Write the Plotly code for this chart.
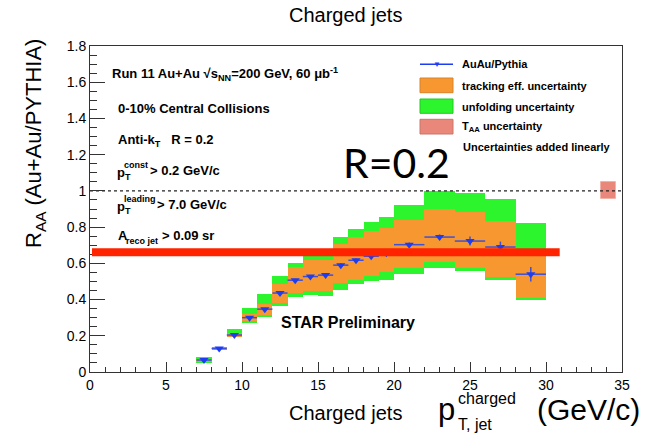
import plotly.graph_objects as go

# ---------------- data ----------------
bin_lo = [7, 8, 9, 10, 11, 12, 13, 14, 15, 16, 17, 18, 19, 20, 22, 24, 26, 28]
bin_hi = [8, 9, 10, 11, 12, 13, 14, 15, 16, 17, 18, 19, 20, 22, 24, 26, 28, 30]
raa = [0.066, 0.13, 0.204, 0.30, 0.347, 0.436, 0.507, 0.527, 0.535, 0.59, 0.617,
       0.639, 0.655, 0.703, 0.745, 0.723, 0.69, 0.54]
stat_err = [0.004, 0.005, 0.006, 0.006, 0.007, 0.008, 0.008, 0.009, 0.009, 0.01,
            0.01, 0.012, 0.012, 0.012, 0.015, 0.025, 0.03, 0.04]
track_lo = [0.058, 0.127, 0.196, 0.280, 0.315, 0.38, 0.434, 0.445, 0.446, 0.489,
            0.51, 0.531, 0.553, 0.577, 0.608, 0.577, 0.525, 0.406]
track_hi = [0.074, 0.133, 0.213, 0.322, 0.375, 0.487, 0.582, 0.619, 0.619, 0.705,
            0.745, 0.778, 0.795, 0.841, 0.902, 0.883, 0.834, 0.66]
unf_lo = [0.051, 0.126, 0.195, 0.272, 0.305, 0.365, 0.415, 0.425, 0.419, 0.452,
          0.485, 0.503, 0.507, 0.54, 0.575, 0.558, 0.51, 0.40]
unf_hi = [0.081, 0.134, 0.235, 0.355, 0.43, 0.529, 0.600, 0.642, 0.645, 0.745,
          0.79, 0.828, 0.856, 0.92, 0.999, 0.988, 0.957, 0.825]
taa_x = [34.1]
taa_lo = [0.955]
taa_hi = [1.05]
ref_line_y = 0.661   # red "R=0.2" line
ref_line_x = [0.13, 30.9]
unity = 1.0

x_tick_vals = [0, 5, 10, 15, 20, 25, 30, 35]
y_tick_vals = [0, 0.2, 0.4, 0.6, 0.8, 1.0, 1.2, 1.4, 1.6, 1.8]
y_tick_text = ["0", "0.2", "0.4", "0.6", "0.8", "1", "1.2", "1.4", "1.6", "1.8"]

# ---------------- colours ----------------
ORANGE = "#F7972F"
GREEN = "#2DF52D"
SALMON = "#E8877A"
BLUE = "#1C3DF2"
BLUE_BAR = "#3D50DA"
RED = "#FF2300"
FONT = "Liberation Sans"

centers = [(a + b) / 2 for a, b in zip(bin_lo, bin_hi)]
widths = [b - a for a, b in zip(bin_lo, bin_hi)]
half = [w / 2 for w in widths]

fig = go.Figure()
fig.add_trace(go.Bar(x=centers, width=widths, base=unf_lo,
                     y=[h - l for h, l in zip(unf_hi, unf_lo)],
                     marker=dict(color=GREEN, line=dict(width=0)),
                     showlegend=False, hoverinfo="skip"))
fig.add_trace(go.Bar(x=centers, width=widths, base=track_lo,
                     y=[h - l for h, l in zip(track_hi, track_lo)],
                     marker=dict(color=ORANGE, line=dict(width=0)),
                     showlegend=False, hoverinfo="skip"))
fig.add_trace(go.Bar(x=taa_x, width=[1.0], base=taa_lo,
                     y=[h - l for h, l in zip(taa_hi, taa_lo)],
                     marker=dict(color=SALMON, line=dict(width=1, color="#F2B4AA")),
                     showlegend=False, hoverinfo="skip"))
fig.add_trace(go.Scatter(x=centers, y=raa, mode="markers",
                         marker=dict(symbol="triangle-down", size=8, color=BLUE,
                                     line=dict(width=0)),
                         error_x=dict(type="data", array=half, color=BLUE_BAR,
                                      thickness=1.5, width=0),
                         error_y=dict(type="data", array=stat_err, color=BLUE_BAR,
                                      thickness=1.5, width=0),
                         showlegend=False))
# dotted unity line
fig.add_trace(go.Scatter(x=[0, 35], y=[unity, unity], mode="lines",
                         line=dict(color="#222222", width=1.2, dash="dot"),
                         showlegend=False, hoverinfo="skip"))

# red reference line on top
fig.add_shape(type="line", xref="x", yref="y", x0=ref_line_x[0], x1=ref_line_x[1],
              y0=ref_line_y, y1=ref_line_y, line=dict(color=RED, width=8), layer="above")

# ---------------- layout helpers ----------------
L, R, T, B = 90, 24, 46, 62
W, H = 646, 434
PW, PH = W - L - R, H - T - B


def px(x):
    return (x - L) / PW


def py(y):
    return (H - B - y) / PH


ann = []


def text(x, y, s, size, anchor="left", color="black", family=FONT, bold=False, angle=0,
         yanchor="middle"):
    if bold:
        s = "<b>" + s + "</b>"
    ann.append(dict(x=px(x), y=py(y), xref="paper", yref="paper", text=s,
                    showarrow=False, xanchor=anchor, yanchor=yanchor,
                    textangle=angle,
                    font=dict(size=size, color=color, family=family)))


# top-left info text
text(110, 74, "Run 11 Au+Au √s<sub>NN</sub>=200 GeV, 60 μb<sup>-1</sup>", 13, bold=True)
text(116, 108, "0-10% Central Collisions", 13, bold=True)
text(116, 140, "Anti-k<sub>T</sub>   R = 0.2", 13, bold=True)
# p_T^const
text(115, 172, "p", 13, bold=True)
text(122, 165, "const", 9, bold=True)
text(123, 177, "T", 9, bold=True)
text(148, 170, "> 0.2 GeV/c", 13, bold=True)
# p_T^leading
text(115, 206, "p", 13, bold=True)
text(122, 199, "leading", 9, bold=True)
text(123, 211, "T", 9, bold=True)
text(155, 204, "> 7.0 GeV/c", 13, bold=True)
# A_reco jet
text(116, 235, "A", 13, bold=True)
text(124, 241, "reco jet", 9, bold=True)
text(160, 235, "> 0.09 sr", 13, bold=True)

text(279, 322, "STAR Preliminary", 16, bold=True)
text(396, 162, "R=0.2", 41, anchor="center", family="Lato")

# legend
shapes = []
shapes.append(dict(type="line", xref="paper", yref="paper", x0=px(420), x1=px(453),
                   y0=py(64.3), y1=py(64.3), line=dict(color=BLUE, width=1.5)))
text(436.5, 64.5, "▼", 8, anchor="center", color=BLUE)
for (y0, y1, c, lc) in [(78, 92.7, ORANGE, "#D9822A"), (99, 113.3, GREEN, "#22C822"),
                        (119.3, 134, SALMON, "#C9766A")]:
    shapes.append(dict(type="rect", xref="paper", yref="paper", x0=px(420), x1=px(453),
                       y0=py(y1), y1=py(y0), fillcolor=c, line=dict(color=lc, width=1)))
text(460, 64.3, "AuAu/Pythia", 11, bold=True)
text(460, 85.7, "tracking eff. uncertainty", 11, bold=True)
text(460, 106.7, "unfolding uncertainty", 11, bold=True)
text(460, 126.5, "T<sub>AA</sub> uncertainty", 11, bold=True)
text(461, 147.3, "Uncertainties added linearly", 11, bold=True)

# titles
text(345, 15, "Charged jets", 20, anchor="center")
text(345, 413, "Charged jets", 20, anchor="center")
text(35, 144, "R<sub>AA</sub> (Au+Au/PYTHIA)", 22, anchor="center", angle=-90)
# x-axis title p_{T, jet}^{charged} (GeV/c)
text(436, 409, "p", 31)
text(456, 398, "charged", 16)
text(456, 424, "T, jet", 16)
text(535, 409, "(GeV/c)", 30)

for s in shapes:
    fig.add_shape(**s)

fig.update_layout(
    width=W, height=H,
    margin=dict(l=L, r=R, t=T, b=B),
    paper_bgcolor="white", plot_bgcolor="white",
    barmode="overlay", bargap=0,
    showlegend=False,
    annotations=ann,
    font=dict(family=FONT, color="black"),
)
fig.update_xaxes(range=[0, 35], tickvals=x_tick_vals, ticks="inside", ticklen=10,
                 tickcolor="#333", showline=True, linecolor="#333", linewidth=1,
                 mirror=True, showgrid=False, zeroline=False,
                 tickfont=dict(size=14, family=FONT),
                 minor=dict(ticks="inside", dtick=1, ticklen=5, tickcolor="#333",
                            showgrid=False))
fig.update_yaxes(range=[0, 1.8], tickvals=y_tick_vals, ticktext=y_tick_text,
                 ticks="inside", ticklen=15,
                 tickcolor="#333", showline=True, linecolor="#333", linewidth=1,
                 mirror=True, showgrid=False, zeroline=False,
                 tickfont=dict(size=14, family=FONT),
                 minor=dict(ticks="inside", dtick=0.05, ticklen=7, tickcolor="#333",
                            showgrid=False))

fig.write_html("out.html")
